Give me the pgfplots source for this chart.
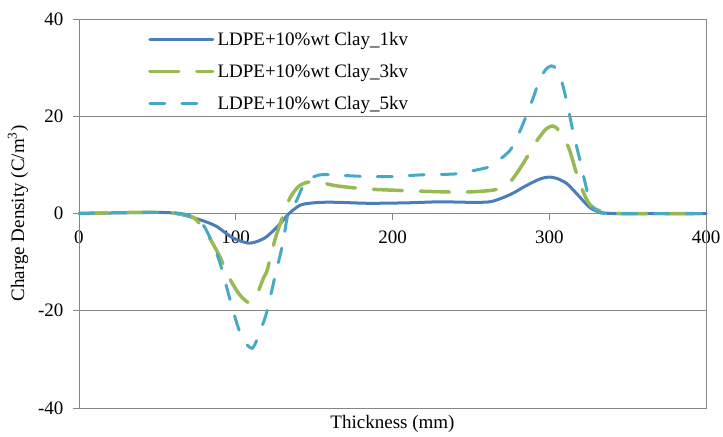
\documentclass[border=0pt]{standalone}
\usepackage{fontspec}
\setmainfont{Liberation Serif}
\usepackage{pgfplots}
\pgfplotsset{compat=1.18}
\definecolor{cblue}{HTML}{4A7EBB}
\definecolor{cgreen}{HTML}{98B954}
\definecolor{ccyan}{HTML}{46AAC5}
\definecolor{gridgray}{HTML}{868686}
\begin{document}
\begin{tikzpicture}
\begin{axis}[
  at={(0,0)}, anchor=south west,
  scale only axis, width=627bp, height=389bp,
  xmin=0, xmax=400, ymin=-40, ymax=40,
  xtick={0,100,200,300,400}, ytick={-40,-20,0,20,40},
  axis x line*=middle, axis y line*=left,
  hide obscured x ticks=false,
  axis line style={draw=gridgray, line width=0.9bp, -},
  ymajorgrids, grid style={draw=gridgray, line width=0.9bp},
  tick style={draw=gridgray, line width=0.9bp},
  tick align=outside, major tick length=6bp,
  font=\fontsize{19bp}{22bp}\selectfont,
  /pgf/number format/assume math mode=true,
  xticklabel style={yshift=-8bp},
  yticklabel style={xshift=-6bp},
  xlabel={Thickness (mm)}, ylabel={Charge Density (C/m\textsuperscript{3})},
  x label style={at={(axis description cs:0.5,0)}, anchor=north, yshift=-4bp},
  y label style={at={(axis description cs:-0.0973,0.5)}, anchor=center},
  legend cell align=left,
  legend style={at={(0.105,0.98)}, anchor=north west, draw=none, fill=none,
    row sep=11.5bp, column sep=0bp, nodes={inner sep=3bp},
    font=\fontsize{19bp}{22bp}\selectfont},
  legend image code/.code={\draw[#1, line cap=round] (0bp,0bp) -- (63bp,0bp);},
  clip=false,
]
\draw[gridgray, line width=0.9bp] (rel axis cs:0,0) rectangle (rel axis cs:1,1);
\addplot[cblue, line width=3bp, smooth, tension=0.5, line cap=round] coordinates {
(0,0) (20,0.1) (40,0.2) (55,0.2) (62,0) (70,-0.6) (80,-1.6) (88,-2.7) (98,-5.0) (108,-6.1) (114,-5.7) (120,-4.7) (128,-2.2) (134,0.0) (141,1.7) (147,2.1) (155,2.3) (165,2.3) (185,2.1) (210,2.2) (230,2.4) (250,2.3) (262,2.4) (270,3.2) (277,4.2) (284,5.5) (290,6.5) (295,7.2) (300,7.5) (305,7.2) (311,6.2) (316,4.6) (320,3.2) (326,1.2) (332,0.3) (340,0) (360,0) (400,0)
};
\addlegendentry{LDPE+10\%wt Clay\_1kv}
\addplot[cgreen, line width=3.5bp, smooth, tension=0.5, line cap=round, dash pattern=on 29bp off 18bp] coordinates {
(0,0) (30,0.2) (55,0.2) (62,0) (68,-0.3) (73,-0.8) (78,-2.5) (84,-5.4) (90,-9) (96,-13.3) (102,-16.5) (108,-18.3) (112,-17.6) (115,-15.5) (118,-13) (120,-11.7) (125,-5.4) (130,-0.6) (134,2.8) (137,4.4) (141,5.8) (147,6.5) (155,6.3) (164,5.7) (175,5.3) (186,5.0) (200,4.8) (217,4.6) (245,4.4) (264,4.8) (270,5.5) (275,6.5) (280,8.6) (286,11.7) (290,14) (294,15.8) (298,17.4) (302,18) (305,17.5) (307,16.5) (310,15) (313,13) (318,7.6) (321,5) (324,2.8) (328,1.2) (335,0.3) (345,0) (400,0)
};
\addlegendentry{LDPE+10\%wt Clay\_3kv}
\addplot[ccyan, line width=3bp, smooth, tension=0.5, line cap=round, dash pattern=on 15bp off 17bp] coordinates {
(0,0) (30,0.2) (55,0.2) (65,0) (72,-0.6) (76,-1.5) (80,-2.7) (85,-6) (90,-10.2) (96,-17.3) (101.6,-23.5) (106,-26.5) (110.5,-27.7) (114,-25.6) (117,-23) (120,-20) (125,-13) (129.5,-6.9) (133,-0.6) (135,0.8) (139,2.8) (144,6.3) (150,7.6) (156,8) (170,7.8) (184,7.6) (199,7.6) (222,8) (239,8.1) (245,8.4) (262,9.6) (268,11) (275,13) (280,16) (286,20.6) (290,24) (293,26.8) (297,29.3) (300,30.2) (303,30.2) (307,28.1) (311,23.3) (315,17.1) (320,10.4) (324,4.8) (327,1.5) (332,0.3) (340,0) (400,0)
};
\addlegendentry{LDPE+10\%wt Clay\_5kv}
\end{axis}
\pgfresetboundingbox
\path[use as bounding box] (-79bp,-29bp) rectangle (644bp,408bp);
\end{tikzpicture}
\end{document}
